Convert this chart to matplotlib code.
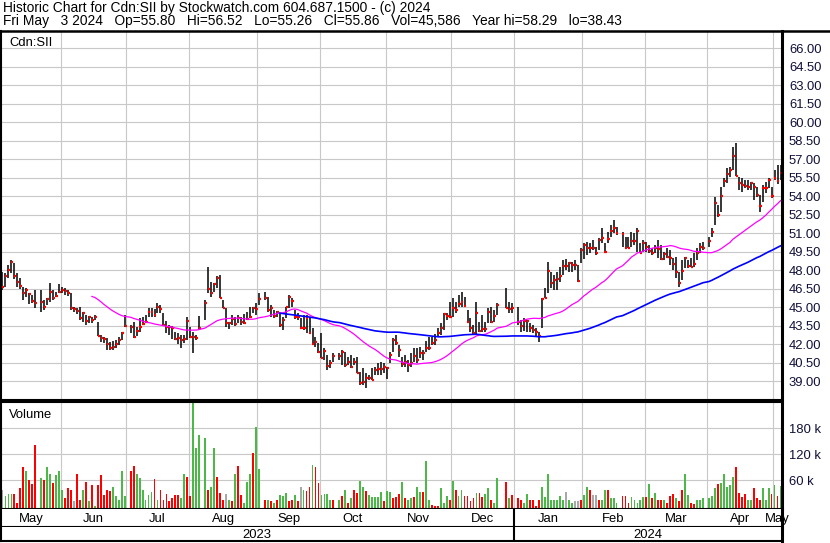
import numpy as np
import pandas as pd
import matplotlib
matplotlib.use('Agg')
from matplotlib import pyplot as plt
from matplotlib.lines import Line2D

plt.rcParams['font.family'] = ['Liberation Sans', 'DejaVu Sans']

# торговые дни: будни с 4 мая 2023 по 3 мая 2024, без праздников TSX
first_day = '2023-05-04'
last_day = '2024-05-03'
holidays = ['2023-05-22', '2023-07-03', '2023-08-07', '2023-09-04', '2023-10-09',
            '2023-12-25', '2023-12-26', '2024-01-01', '2024-02-19', '2024-03-29']

high = [47.87, 47.78, 48.40, 48.81, 48.59, 47.73, 47.32, 46.59, 46.51, 46.16,
        45.97, 46.38, 46.38, 45.57, 45.70, 46.92, 46.38, 46.24, 46.84, 46.65,
        46.51, 46.38, 46.16, 45.03, 44.89, 45.03, 44.62, 44.35, 44.27, 44.22,
        44.35, 43.81, 42.73, 42.54, 42.46, 42.19, 42.27, 42.32, 42.59, 43.00,
        44.35, 43.54, 43.81, 43.41, 44.08, 44.22, 44.35, 44.89, 44.89, 44.81,
        45.35, 45.16, 44.54, 43.89, 43.54, 43.46, 43.00, 42.86, 42.73, 42.73,
        44.22, 43.41, 43.00, 42.73, 44.27, 45.57, 48.22, 47.00, 46.92, 47.51,
        47.59, 45.57, 44.89, 43.81, 44.35, 44.22, 44.35, 44.22, 44.43, 44.62,
        45.03, 45.03, 45.30, 46.16, 46.24, 45.84, 45.16, 44.76, 44.70, 44.49,
        44.22, 45.03, 45.97, 45.70, 44.76, 44.49, 44.08, 44.35, 44.35, 44.22,
        43.27, 42.60, 42.05, 42.87, 41.65, 41.11, 40.70, 41.24, 41.24, 41.51,
        41.38, 40.97, 41.11, 40.84, 40.97, 39.76, 40.03, 39.62, 39.49, 40.03,
        40.16, 40.43, 40.57, 40.43, 40.16, 41.38, 42.46, 42.73, 41.92, 40.97,
        41.11, 40.70, 41.24, 41.65, 41.65, 41.78, 41.51, 42.27, 42.60, 42.60,
        42.81, 43.27, 43.68, 44.49, 44.49, 45.43, 45.70, 45.43, 45.97,
        46.24, 45.84, 44.76, 44.08, 43.54, 45.43, 43.81, 44.35, 43.81, 44.89,
        45.03, 44.76, 45.30, 46.51, 45.43, 45.30, 45.03, 43.95, 44.08, 43.95,
        43.68, 43.54, 43.27, 43.00, 45.70, 46.51, 48.68, 47.87, 47.60, 47.87,
        48.27, 48.81, 48.87, 48.68, 48.68, 48.81, 48.41, 49.76, 50.17,
        50.30, 50.17, 50.44, 49.90, 50.57, 51.38, 50.17, 51.11, 51.65, 52.06,
        51.52, 51.11, 50.71, 50.71, 51.11, 50.98, 51.38, 50.17, 50.44, 50.30,
        50.03, 49.76, 50.03, 50.43, 50.03, 49.49, 49.76, 49.62, 48.95, 49.08,
        47.87, 48.81, 49.08, 48.81, 48.95, 49.35, 49.76, 50.16, 50.30,
        50.70, 51.38, 53.95, 53.27, 54.76, 55.43, 56.24, 56.38, 58.00, 58.29,
        55.57, 55.43, 55.30, 55.30, 55.16, 55.03, 54.76, 54.08, 54.89, 55.16,
        55.43, 54.76, 56.11, 56.51, 56.52]

low = [46.38, 46.59, 47.32, 47.73, 47.24, 46.65, 46.43, 45.57, 45.84, 45.24,
       45.35, 44.89, 44.62, 44.76, 45.16, 45.43, 45.57, 45.84, 46.16, 46.11,
       45.97, 45.89, 44.76, 44.62, 44.43, 43.94, 43.81, 43.54, 43.68, 43.68,
       43.94, 42.65, 42.19, 42.05, 41.51, 41.51, 41.51, 41.65, 41.92, 42.32,
       43.41, 42.86, 42.46, 42.65, 43.00, 43.54, 43.68, 44.22, 44.22, 44.22,
       44.49, 44.49, 43.54, 42.92, 42.73, 42.38, 42.30, 41.97, 41.70, 42.05,
       42.32, 42.46, 41.24, 42.32, 43.14, 43.95, 46.11, 45.84, 46.24, 46.51,
       45.70, 44.89, 43.41, 43.22, 43.54, 43.46, 43.68, 43.54, 43.62, 43.95,
       44.08, 44.49, 44.35, 45.16, 45.57, 44.62, 44.22, 44.08, 44.22, 43.41,
       43.14, 44.08, 44.89, 45.03, 44.00, 43.95, 43.19, 43.14, 42.87, 42.87,
       41.92, 41.78, 41.30, 40.84, 40.70, 39.89, 40.03, 40.57, 40.70, 40.30,
       40.16, 40.30, 40.03, 40.30, 39.62, 38.68, 38.68, 38.43, 39.08, 39.08,
       39.49, 39.49, 39.49, 39.62, 39.14, 40.49, 41.38, 41.92, 40.97, 40.16,
       40.16, 39.76, 40.16, 40.57, 40.49, 40.84, 40.70, 41.38, 41.51, 41.92,
       41.92, 42.60, 42.73, 43.14, 43.95, 44.22, 44.22, 44.49, 45.03,
       45.03, 45.03, 43.68, 43.00, 42.73, 42.73, 43.00, 43.00, 43.00, 43.68,
       43.68, 43.81, 44.35, 44.89, 44.49, 44.49, 43.54, 43.00, 43.08, 43.00,
       43.00, 42.87, 42.60, 42.19, 43.27, 45.70, 46.16, 46.51, 46.38, 46.38,
       47.06, 47.60, 48.00, 47.87, 47.87, 48.00, 47.06, 48.54, 48.87,
       49.22, 49.36, 49.63, 49.22, 49.63, 50.17, 49.36, 50.17, 50.71, 50.98,
       50.84, 49.90, 49.76, 49.76, 49.90, 50.03, 49.49, 49.36, 49.49, 49.49,
       49.36, 49.22, 49.36, 48.95, 48.81, 48.81, 48.95, 48.41, 48.00, 47.32,
       46.65, 47.19, 48.14, 48.14, 48.27, 48.27, 48.81, 49.35, 49.62,
       49.89, 50.70, 51.65, 52.33, 52.73, 54.76, 55.03, 55.57, 56.11, 55.60,
       54.49, 54.35, 54.62, 54.49, 54.49, 53.68, 53.95, 52.73, 53.54, 54.22,
       54.62, 53.81, 55.30, 55.00, 55.26]

close = [46.65, 47.54, 48.00, 48.67, 47.54, 47.05, 46.73, 46.16, 46.38, 46.08,
         45.51, 45.35, 45.43, 45.03, 45.62, 46.22, 45.70, 45.92, 46.19, 46.38,
         46.32, 46.11, 44.89, 44.86, 44.70, 44.13, 44.49, 43.89, 44.16, 43.95,
         44.22, 42.65, 42.46, 42.38, 41.97, 41.65, 41.78, 41.97, 42.32, 42.86,
         43.46, 43.41, 42.54, 43.08, 43.41, 43.62, 43.81, 44.62, 44.62, 44.35,
         44.97, 44.86, 43.54, 43.41, 43.35, 43.27, 42.40, 42.46, 42.32, 42.40,
         43.89, 42.54, 42.54, 42.46, 43.27, 45.35, 46.46, 46.11, 46.84, 47.38,
         45.70, 44.89, 43.68, 43.68, 44.00, 43.62, 44.08, 43.81, 43.68, 44.00,
         44.22, 44.89, 44.81, 45.68, 45.76, 44.76, 44.95, 44.27, 44.57, 43.54,
         43.95, 44.97, 45.84, 45.51, 44.16, 44.16, 43.27, 43.27, 44.08, 42.92,
         41.97, 42.19, 41.38, 40.89, 41.46, 40.22, 40.43, 41.03, 41.03, 41.38,
         40.30, 40.57, 40.16, 40.57, 39.62, 38.81, 38.95, 39.22, 39.27, 39.08,
         39.89, 39.95, 39.95, 40.11, 40.03, 41.11, 42.33, 42.11, 41.51, 40.38,
         40.57, 40.30, 40.43, 41.03, 40.70, 41.24, 41.24, 41.65, 41.65, 42.11,
         42.32, 42.92, 43.27, 44.43, 44.27, 44.22, 44.95, 44.76, 45.22,
         45.43, 45.08, 43.81, 43.27, 42.92, 44.54, 43.08, 43.19, 43.19, 44.62,
         43.81, 44.27, 45.16, 44.89, 44.81, 44.89, 43.81, 43.46, 43.89, 43.87,
         43.27, 43.14, 43.00, 42.68, 45.68, 45.76, 47.95, 46.97, 47.19, 47.30,
         47.52, 48.33, 48.33, 48.54, 48.41, 48.41, 47.14, 49.63, 50.03,
         49.76, 49.81, 49.81, 49.36, 50.44, 50.57, 49.49, 50.52, 51.19, 51.44,
         50.98, 50.92, 49.81, 49.81, 50.38, 50.38, 51.19, 49.41, 50.17, 49.84,
         49.57, 49.41, 49.76, 49.68, 48.86, 49.30, 49.08, 48.95, 48.49, 47.87,
         46.97, 47.92, 48.95, 48.33, 48.27, 48.46, 49.35, 49.89, 49.76,
         50.38, 51.11, 53.41, 52.46, 54.03, 55.24, 55.76, 56.11, 57.27, 55.65,
         55.03, 54.89, 54.81, 54.76, 55.03, 54.70, 54.08, 53.19, 54.62, 54.62,
         55.30, 54.00, 55.43, 55.24, 55.86]

# объём в тысячах акций
volume_k = [38, 22, 27, 27, 27, 8, 41, 89, 80, 59,
            50, 140, 64, 59, 89, 73, 52, 71, 80, 36,
            18, 41, 38, 11, 73, 15, 38, 55, 11, 48,
            1, 48, 71, 25, 38, 34, 43, 22, 15, 80,
            22, 80, 92, 73, 65, 36, 15, 25, 32, 62,
            13, 36, 15, 27, 11, 18, 25, 25, 18, 75,
            68, 22, 240, 135, 163, 158, 38, 43, 135, 66,
            29, 15, 27, 13, 11, 73, 92, 25, 8, 55,
            75, 122, 182, 85, 15, 15, 11, 6, 15, 25,
            22, 29, 11, 13, 25, 11, 45, 36, 34, 43,
            94, 89, 52, 25, 27, 27, 15, 13, 15, 22,
            38, 8, 18, 36, 29, 57, 43, 34, 25, 20,
            20, 20, 32, 11, 34, 32, 18, 20, 27, 55,
            18, 15, 18, 20, 43, 32,
            32, 103, 13, 2, 1, 1, 41, 6, 22, 15, 57,
            36, 22, 36, 22, 22, 11, 18, 29, 29, 20,
            27, 41, 15, 8, 64, 55, 18, 25, 18, 15,
            8, 27, 13, 13, 1, 15, 45, 20, 73, 13,
            13, 13, 22, 13, 32, 13, 6, 11, 11, 15,
            25, 43, 38, 25, 25, 13, 15, 38, 38, 18,
            18, 8, 22, 22, 8, 20, 15, 6, 13, 20,
            20, 50, 18, 29, 15, 15, 13, 8, 22, 27,
            18, 11, 38, 75, 25, 6, 4, 15, 13, 18,
            18, 22, 41, 50, 52, 73, 43, 48, 66, 89,
            29, 20, 27, 15, 15, 41, 18, 15, 41, 13,
            41, 27, 48, 22, 45.586]

# g - рост, r - падение, n - без изменений
vol_dir = ('n g g g r r r r g r  r r g r g g r g g g  r r r n r r g r g r  '
           'g r r r r r g g g g  g r r g g g g g g r  g r r r r r r r g g  '
           'r r g g g g r g g r  r r n g r g r r g g  g r g g r g r g r g  '
           'g g r r g r n g r r  g r r g g g g r g r  g r g r r g g r g g  '
           'g g g r g g r r r g  r g g r g g  '
           'r g g r r r g g g r g  r g g r r r r g r r  g g r g g r g r r r  '
           'g g r r r r g g g g  g g g g n g g n n r  g g r n n r g g r g  '
           'g g r r r g g g g g  r g r g r r g r r r  g r r g g r r g g g  '
           'g g g r g g g g g r  r r r g g r r r g g  g r g r g').split()

header1 = 'Historic Chart for Cdn:SII by Stockwatch.com 604.687.1500 - (c) 2024'
header2 = ('Fri May   3 2024   Op=55.80   Hi=56.52   Lo=55.26   Cl=55.86   '
           'Vol=45,586   Year hi=58.29   lo=38.43')

# --- оси X: слот на каждый будний день, праздники пустые
days = pd.bdate_range(first_day, last_day)
is_trade = ~days.isin(pd.to_datetime(holidays))
slots = np.arange(len(days))
x = slots[is_trade]
n_slots = len(days)

month_id = days.year * 12 + days.month
m_start = np.r_[0, np.nonzero(np.diff(month_id))[0] + 1]
m_edges = np.r_[m_start, n_slots] - 0.5
m_names = [d.strftime('%b') for d in days[m_start]]
year_start = m_start[[d.month == 1 for d in days[m_start]]]

ma_fast = pd.Series(close).rolling(30).mean()
ma_slow = pd.Series(close).rolling(90).mean()
col_map = {'g': '#4cb848', 'r': '#ff0000', 'n': '#a8a8a8'}
vcolors = [col_map[c] for c in vol_dir]

W, H = 830, 543
fig = plt.figure(figsize=(W / 100, H / 100), dpi=100)
fig.patch.set_facecolor('white')


def box(x0, y0, x1, y1):
    return fig.add_axes([x0 / W, 1 - y1 / H, (x1 - x0) / W, (y1 - y0) / H])


ax_p = box(1, 31, 782, 400)
ax_v = box(1, 402, 782, 509)
ax_m = box(1, 509, 782, 527)
ax_y = box(1, 527, 782, 541)

grid_c = '#c8c8c8'
lab_c = '#10103a'
fs = 9.4

for ax in (ax_p, ax_v, ax_m, ax_y):
    ax.set_xlim(-0.5, n_slots - 0.5)
    for s in ax.spines.values():
        s.set_color('black')
        s.set_linewidth(1.5)
    ax.spines['right'].set_linewidth(2.2)
    ax.tick_params(length=0)

# --- цены
ax_p.vlines(x, low, high, color='black', lw=1.1)
ax_p.hlines(close, x - 0.05, x + 0.65, color='red', lw=1.6)
ax_p.plot(x, ma_fast, color='#ff00ff', lw=0.9)
ax_p.plot(x, ma_slow, color='#0000ff', lw=1.2)
ax_p.set_ylim(37.46, 67.38)
ticks = np.arange(39, 66.01, 1.5)
ax_p.set_yticks(ticks)
ax_p.set_yticklabels([f'{t:.2f}' for t in ticks], color=lab_c, fontsize=fs)
ax_p.yaxis.tick_right()
ax_p.tick_params(axis='y', pad=5)
ax_p.set_xticks(m_edges[1:-1])
ax_p.set_xticklabels([])
ax_p.grid(color=grid_c, lw=0.8)
ax_p.set_axisbelow(True)
ax_p.spines['top'].set_visible(False)
ax_p.text(8 / 781, 0.967, 'Cdn:SII', transform=ax_p.transAxes, fontsize=fs,
          va='center', ha='left')

# --- объём
vbase = -6900
ax_v.bar(x, np.array(volume_k) * 1000 - vbase, bottom=vbase, width=0.62,
         color=vcolors, linewidth=0)
ax_v.set_ylim(vbase, 240000)
ax_v.set_yticks([60000, 120000, 180000])
ax_v.set_yticklabels(['60 k', '120 k', '180 k'], color=lab_c, fontsize=fs)
ax_v.yaxis.tick_right()
ax_v.tick_params(axis='y', pad=5)
ax_v.set_xticks(m_edges[1:-1])
ax_v.set_xticklabels([])
ax_v.grid(color=grid_c, lw=0.8)
ax_v.set_axisbelow(True)
ax_v.text(8 / 781, 0.88, 'Volume', transform=ax_v.transAxes, fontsize=fs,
          va='center', ha='left')

# --- подписи месяцев и лет
for ax in (ax_m, ax_y):
    ax.set_ylim(0, 1)
    ax.set_xticks([])
    ax.set_yticks([])
    ax.spines['top'].set_visible(False)
    for ys in year_start:
        ax.axvline(ys - 0.5, color='black', lw=1.5)

for i, name in enumerate(m_names):
    ax_m.text((m_edges[i] + m_edges[i + 1]) / 2, 0.45, name, ha='center',
              va='center', fontsize=fs, zorder=1)

y_edges = np.r_[-0.5, year_start - 0.5, n_slots - 0.5]
y_names = [str(days[0].year + k) for k in range(len(y_edges) - 1)]
for i, name in enumerate(y_names):
    ax_y.text((y_edges[i] + y_edges[i + 1]) / 2, 0.45, name, ha='center',
              va='center', fontsize=fs)

# шапка и линия под ней на всю ширину
fig.text(3 / W, 1 - 1 / H, header1, fontsize=9.95, va='top', ha='left')
fig.text(3 / W, 1 - 14.5 / H, header2, fontsize=9.95, va='top', ha='left')
fig.add_artist(Line2D([0, 1], [1 - 31 / H, 1 - 31 / H], color='black', lw=1.8,
                      transform=fig.transFigure))

fig.savefig('out.png', dpi=100)
